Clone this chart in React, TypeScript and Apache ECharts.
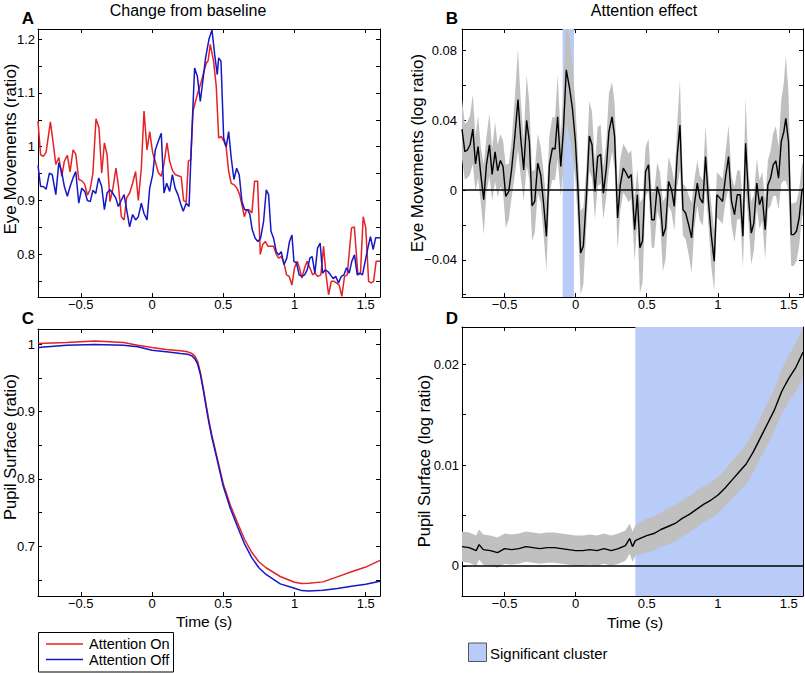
import React, { useEffect, useRef } from 'react';
import * as echarts from 'echarts';

// ---------- data ----------
const X_TICKS = [-0.5, 0, 0.5, 1, 1.5];
const A_Y_TICKS = [0.75, 0.8, 0.85, 0.9, 0.95, 1, 1.05, 1.1, 1.15, 1.2];
const A_Y_LABELS = [0.8, 0.9, 1, 1.1, 1.2];
const B_Y_TICKS = [-0.06, -0.04, -0.02, 0, 0.02, 0.04, 0.06, 0.08];
const B_Y_LABELS = [-0.04, 0, 0.04, 0.08];
const C_Y_TICKS = [0.65, 0.7, 0.75, 0.8, 0.85, 0.9, 0.95, 1];
const C_Y_LABELS = [0.7, 0.8, 0.9, 1];
const D_Y_TICKS = [0, 0.005, 0.01, 0.015, 0.02];
const D_Y_LABELS = [0, 0.01, 0.02];

// Panel A: eye movements, change from baseline [time, ratio]
const aOn = [[-0.8,1.047],[-0.782,0.985],[-0.762,0.982],[-0.743,0.99],[-0.713,1.046],[-0.695,1.01],[-0.675,0.967],[-0.654,0.98],[-0.633,0.945],[-0.615,0.973],[-0.594,0.984],[-0.575,0.953],[-0.554,0.994],[-0.535,0.986],[-0.514,0.939],[-0.493,0.937],[-0.472,0.93],[-0.453,0.91],[-0.435,0.92],[-0.415,0.95],[-0.393,1.052],[-0.372,1.035],[-0.353,0.951],[-0.334,1.007],[-0.315,0.985],[-0.295,0.898],[-0.276,0.92],[-0.253,0.96],[-0.235,0.926],[-0.215,0.87],[-0.196,0.864],[-0.178,0.905],[-0.157,0.914],[-0.136,0.932],[-0.115,0.954],[-0.096,0.9],[-0.075,0.96],[-0.056,1.066],[-0.035,0.994],[-0.016,1.028],[0.005,0.988],[0.023,0.973],[0.044,0.952],[0.065,0.945],[0.084,0.968],[0.105,1.007],[0.124,0.973],[0.145,0.955],[0.165,0.948],[0.185,0.946],[0.205,0.944],[0.222,0.9],[0.24,0.897],[0.255,0.973],[0.272,0.976],[0.288,1.066],[0.305,1.084],[0.325,1.103],[0.346,1.121],[0.365,1.14],[0.381,1.155],[0.394,1.16],[0.409,1.19],[0.432,1.159],[0.451,1.112],[0.468,1.016],[0.486,1.019],[0.505,1.01],[0.521,0.998],[0.538,0.954],[0.556,0.932],[0.577,0.929],[0.596,0.923],[0.615,0.911],[0.631,0.892],[0.648,0.87],[0.664,0.883],[0.68,0.883],[0.701,0.877],[0.72,0.936],[0.741,0.936],[0.76,0.8],[0.776,0.818],[0.795,0.824],[0.814,0.815],[0.832,0.815],[0.853,0.815],[0.872,0.8],[0.888,0.793],[0.907,0.796],[0.926,0.784],[0.944,0.762],[0.963,0.759],[0.982,0.743],[1.0,0.775],[1.019,0.787],[1.035,0.775],[1.052,0.756],[1.071,0.775],[1.089,0.787],[1.108,0.775],[1.127,0.762],[1.145,0.765],[1.164,0.759],[1.185,0.762],[1.204,0.815],[1.22,0.765],[1.239,0.725],[1.258,0.75],[1.277,0.75],[1.295,0.747],[1.314,0.743],[1.332,0.722],[1.351,0.759],[1.37,0.762],[1.4,0.849],[1.42,0.851],[1.445,0.762],[1.463,0.765],[1.482,0.87],[1.5,0.849],[1.52,0.75],[1.538,0.747],[1.555,0.75],[1.573,0.787],[1.6,0.787]];
const aOff = [[-0.8,0.965],[-0.782,0.926],[-0.762,0.926],[-0.743,0.921],[-0.72,0.951],[-0.7,0.948],[-0.675,0.911],[-0.654,0.97],[-0.635,0.955],[-0.615,0.926],[-0.594,0.908],[-0.575,0.926],[-0.554,0.942],[-0.535,0.954],[-0.514,0.895],[-0.493,0.923],[-0.472,0.917],[-0.453,0.9],[-0.433,0.898],[-0.415,0.919],[-0.395,0.913],[-0.374,0.942],[-0.353,0.926],[-0.334,0.883],[-0.315,0.914],[-0.295,0.92],[-0.276,0.914],[-0.255,0.905],[-0.236,0.889],[-0.215,0.901],[-0.196,0.911],[-0.178,0.883],[-0.157,0.851],[-0.136,0.874],[-0.115,0.864],[-0.096,0.87],[-0.075,0.895],[-0.056,0.876],[-0.035,0.864],[-0.016,0.923],[0.005,0.948],[0.023,0.994],[0.044,1.01],[0.065,1.025],[0.084,0.914],[0.103,0.932],[0.124,0.917],[0.143,0.948],[0.162,0.923],[0.182,0.911],[0.2,0.895],[0.219,0.88],[0.24,0.895],[0.26,0.889],[0.28,1.028],[0.299,1.146],[0.318,1.131],[0.339,1.084],[0.358,1.125],[0.376,1.165],[0.4,1.2],[0.421,1.217],[0.44,1.171],[0.458,1.134],[0.468,1.165],[0.484,1.159],[0.503,1.016],[0.521,1.0],[0.538,1.028],[0.556,0.979],[0.575,0.939],[0.594,0.96],[0.612,0.948],[0.631,0.898],[0.65,0.883],[0.671,0.883],[0.687,0.874],[0.703,0.846],[0.724,0.83],[0.743,0.824],[0.762,0.83],[0.783,0.861],[0.802,0.92],[0.818,0.911],[0.835,0.843],[0.853,0.83],[0.872,0.805],[0.888,0.799],[0.907,0.805],[0.926,0.781],[0.946,0.793],[0.965,0.824],[0.982,0.836],[0.996,0.787],[1.014,0.784],[1.033,0.762],[1.052,0.759],[1.071,0.762],[1.089,0.771],[1.108,0.793],[1.124,0.796],[1.143,0.765],[1.162,0.812],[1.18,0.821],[1.197,0.765],[1.215,0.771],[1.234,0.768],[1.253,0.762],[1.272,0.755],[1.29,0.759],[1.309,0.747],[1.328,0.759],[1.347,0.762],[1.365,0.775],[1.384,0.765],[1.402,0.787],[1.421,0.799],[1.44,0.762],[1.458,0.765],[1.477,0.762],[1.496,0.787],[1.515,0.812],[1.533,0.833],[1.552,0.809],[1.57,0.831],[1.6,0.831]];

// Panel B: attention effect on eye movements (log ratio)
const bTime = [-0.8,-0.78,-0.762,-0.743,-0.724,-0.705,-0.687,-0.668,-0.647,-0.628,-0.607,-0.588,-0.567,-0.549,-0.53,-0.511,-0.492,-0.471,-0.452,-0.429,-0.406,-0.387,-0.366,-0.345,-0.326,-0.307,-0.288,-0.267,-0.246,-0.225,-0.206,-0.185,-0.164,-0.145,-0.127,-0.105,-0.087,-0.066,-0.042,-0.023,-0.002,0.016,0.035,0.054,0.075,0.096,0.115,0.136,0.155,0.176,0.195,0.216,0.234,0.256,0.274,0.295,0.314,0.335,0.356,0.373,0.391,0.415,0.434,0.452,0.471,0.492,0.513,0.535,0.553,0.574,0.593,0.614,0.633,0.654,0.675,0.694,0.715,0.734,0.755,0.774,0.795,0.816,0.835,0.856,0.874,0.895,0.914,0.935,0.954,0.975,0.994,1.015,1.034,1.055,1.076,1.097,1.118,1.137,1.158,1.177,1.196,1.217,1.236,1.254,1.275,1.294,1.313,1.334,1.353,1.372,1.39,1.409,1.428,1.447,1.465,1.479,1.498,1.517,1.535,1.554,1.573,1.592,1.6];
const bMean = [0.035,0.022,0.023,0.026,0.035,0.015,0.025,0.009,-0.0055,0.0145,0.026,0.009,0.022,0.011,0.017,0.0135,-0.0036,-0.0008,0.011,0.03,0.052,0.03,0.0116,0.04,0.028,-0.009,-0.0065,0.0154,0.0088,-0.0084,-0.0265,0.0145,0.024,0.0236,0.042,0.0135,0.0335,0.069,0.058,0.047,0.028,0.001,-0.036,-0.032,-0.0046,0.031,0.026,-0.0008,0.0192,0.0206,-0.0017,0.0126,0.0335,0.042,0.031,-0.016,0.003,0.0126,0.0097,0.0069,0.009,-0.0227,-0.0027,-0.033,-0.029,0.0107,0.0145,-0.017,-0.017,0.002,-0.0036,-0.0265,-0.0217,0.005,0.0002,-0.0093,0.0202,0.0373,-0.0112,-0.0131,-0.0198,-0.0274,-0.0084,0.004,-0.0046,-0.0074,0.0192,-0.0065,-0.0255,-0.0408,-0.0027,-0.0046,-0.0065,0.0078,0.0192,-0.0065,-0.0141,-0.0027,-0.0027,-0.0265,0.0269,-0.0046,-0.0246,-0.0189,0.004,-0.0084,-0.0036,-0.0227,0.003,0.0069,0.0145,0.0168,0.0069,0.0278,0.0335,0.0411,0.0278,-0.0255,-0.0255,-0.0236,-0.016,-0.0008,0.001];
const bErr = [0.017,0.016,0.016,0.017,0.02,0.016,0.018,0.016,0.02,0.016,0.018,0.015,0.017,0.015,0.015,0.015,0.018,0.016,0.016,0.022,0.029,0.022,0.018,0.026,0.022,0.02,0.018,0.017,0.016,0.018,0.02,0.017,0.018,0.018,0.024,0.017,0.022,0.03,0.028,0.026,0.022,0.02,0.024,0.022,0.017,0.02,0.019,0.016,0.017,0.017,0.015,0.016,0.022,0.02,0.019,0.018,0.015,0.014,0.014,0.014,0.014,0.018,0.015,0.026,0.024,0.014,0.015,0.016,0.016,0.014,0.014,0.02,0.018,0.014,0.013,0.014,0.018,0.026,0.015,0.015,0.017,0.02,0.014,0.013,0.013,0.013,0.018,0.014,0.018,0.017,0.013,0.013,0.013,0.014,0.018,0.014,0.016,0.014,0.014,0.018,0.026,0.015,0.018,0.016,0.014,0.014,0.014,0.017,0.014,0.016,0.018,0.02,0.018,0.024,0.028,0.036,0.028,0.018,0.018,0.017,0.016,0.015,0.015];
const bCluster = [-0.092, -0.012];

// Panel C: pupil surface, change from baseline (ratio)
const cTime = [-0.8,-0.6,-0.4,-0.2,-0.1,0,0.1,0.2,0.25,0.28,0.3,0.32,0.34,0.36,0.38,0.4,0.42,0.45,0.5,0.55,0.6,0.65,0.7,0.75,0.8,0.9,1.0,1.05,1.1,1.2,1.3,1.4,1.5,1.6];
const cOn = [1.0015,1.003,1.005,1.003,0.999,0.9955,0.9925,0.9905,0.989,0.9865,0.983,0.975,0.958,0.935,0.91,0.886,0.865,0.838,0.793,0.761,0.735,0.71,0.691,0.677,0.668,0.655,0.6465,0.6445,0.645,0.647,0.6545,0.662,0.669,0.679];
const cOff = [0.9955,0.999,1.0,0.999,0.9965,0.9915,0.989,0.9865,0.9855,0.983,0.979,0.971,0.955,0.932,0.907,0.883,0.862,0.835,0.789,0.756,0.729,0.703,0.683,0.668,0.658,0.644,0.6375,0.634,0.6335,0.6345,0.637,0.6405,0.6435,0.648];

// Panel D: attention effect on pupil surface (log ratio)
const dTime = [-0.8,-0.75,-0.7,-0.68,-0.65,-0.6,-0.55,-0.5,-0.45,-0.4,-0.35,-0.3,-0.25,-0.2,-0.15,-0.1,-0.05,0,0.05,0.1,0.15,0.2,0.25,0.3,0.35,0.38,0.4,0.42,0.45,0.5,0.55,0.6,0.65,0.7,0.75,0.8,0.85,0.9,0.95,1.0,1.05,1.1,1.15,1.2,1.25,1.3,1.35,1.4,1.45,1.5,1.55,1.6];
const dMean = [0.0019,0.0018,0.0015,0.0021,0.0016,0.0015,0.0013,0.0017,0.0016,0.0017,0.0019,0.0018,0.0017,0.0018,0.0018,0.0017,0.0016,0.0015,0.0015,0.0016,0.0015,0.0017,0.0015,0.0017,0.002,0.0027,0.0019,0.0025,0.0027,0.003,0.0032,0.0036,0.0039,0.0042,0.0047,0.0051,0.0056,0.0061,0.0065,0.007,0.0077,0.0085,0.0093,0.0101,0.0113,0.0127,0.0141,0.0155,0.0173,0.0186,0.0197,0.0212];
const dErr = [0.0015,0.0015,0.0015,0.0015,0.0015,0.0015,0.0015,0.0015,0.0015,0.0015,0.0015,0.0015,0.0015,0.0015,0.0015,0.0015,0.0015,0.0015,0.0015,0.0015,0.0015,0.0015,0.0015,0.0015,0.0015,0.0015,0.0015,0.0015,0.0016,0.0017,0.0017,0.0017,0.0018,0.0018,0.0018,0.0018,0.0018,0.0018,0.0018,0.0018,0.0018,0.0019,0.0019,0.002,0.002,0.002,0.0021,0.0021,0.0022,0.0023,0.0024,0.0025];
const dCluster = [0.42, 1.6];

// ---------- styling ----------
const FONT = 'Liberation Sans, Arial, Helvetica, sans-serif';
const RED = '#e52226';
const BLUE = '#1717c4';
const BAND = '#c0c0c0';
const CLUSTER = '#b9ccf8';

const fmt = (v: number) => String(parseFloat(Number(v).toFixed(4))).replace('-', '\u2212');

function xAxes(grid: number, showLabels: boolean) {
  const base = {
    type: 'value', gridIndex: grid, min: -0.8, max: 1.6,
    splitLine: { show: false },
    axisLine: { show: true, onZero: false, lineStyle: { color: '#000', width: 1 } },
    axisTick: { show: true, inside: true, length: 4, customValues: X_TICKS, lineStyle: { color: '#000', width: 1 } },
  };
  return [
    { ...base, position: 'bottom',
      axisLabel: { show: showLabels, customValues: X_TICKS, formatter: fmt, margin: 1, fontSize: 13, color: '#000', fontFamily: FONT } },
    { ...base, position: 'top', axisLabel: { show: false } },
  ];
}

function yAxes(grid: number, min: number, max: number, ticks: number[], labels: number[], margin: number) {
  const base = {
    type: 'value', gridIndex: grid, min, max,
    splitLine: { show: false },
    axisLine: { show: true, onZero: false, lineStyle: { color: '#000', width: 1 } },
    axisTick: { show: true, inside: true, length: 4, customValues: ticks, lineStyle: { color: '#000', width: 1 } },
  };
  return [
    { ...base, position: 'left',
      axisLabel: { show: true, customValues: labels, formatter: fmt, margin, fontSize: 13, color: '#000', fontFamily: FONT } },
    { ...base, position: 'right', axisLabel: { show: false } },
  ];
}

function clusterSeries(axisIdx: number, range: number[]) {
  return {
    type: 'custom', xAxisIndex: axisIdx, yAxisIndex: axisIdx, z: 1, silent: true,
    data: [[range[0], range[1]]],
    encode: { x: [0, 1] },
    renderItem: (params: any, api: any) => {
      const cs = params.coordSys;
      const x0 = api.coord([api.value(0), 0])[0];
      const x1 = api.coord([api.value(1), 0])[0];
      return { type: 'rect', shape: { x: x0, y: cs.y, width: x1 - x0, height: cs.height }, style: { fill: CLUSTER } };
    },
  };
}

function bandSeries(axisIdx: number, times: number[], mean: number[], err: number[]) {
  return {
    type: 'custom', xAxisIndex: axisIdx, yAxisIndex: axisIdx, z: 2, silent: true,
    data: [[times[0], mean[0]]],
    encode: { x: 0, y: 1 },
    renderItem: (params: any, api: any) => {
      const cs = params.coordSys;
      const upper = times.map((t, i) => api.coord([t, mean[i] + err[i]]));
      const lower = times.map((t, i) => api.coord([t, mean[i] - err[i]])).reverse();
      return {
        type: 'polygon',
        shape: { points: upper.concat(lower) },
        style: { fill: BAND },
        clipPath: { type: 'rect', shape: { x: cs.x, y: cs.y, width: cs.width, height: cs.height } },
      };
    },
  };
}

function meanSeries(axisIdx: number, times: number[], mean: number[]) {
  return {
    type: 'line', xAxisIndex: axisIdx, yAxisIndex: axisIdx, z: 3,
    data: times.map((t, i) => [t, mean[i]]),
    symbol: 'none', showSymbol: false, silent: true,
    lineStyle: { color: '#000', width: 1.4 },
    emphasis: { disabled: true },
    markLine: {
      silent: true, symbol: ['none', 'none'], label: { show: false },
      lineStyle: { color: '#000', width: 1.5, type: 'solid' },
      data: [{ yAxis: 0 }],
    },
  };
}

function lineSeries(name: string, axisIdx: number, data: number[][], color: string) {
  return {
    name, type: 'line', xAxisIndex: axisIdx, yAxisIndex: axisIdx,
    data, symbol: 'none', showSymbol: false, silent: true,
    lineStyle: { color, width: 1.5 },
    itemStyle: { color },
    emphasis: { disabled: true },
  };
}

function txt(text: string, x: number, y: number, size: number, opts: any = {}) {
  return {
    type: 'text', x, y, rotation: opts.rotation || 0, silent: true,
    style: {
      text, fontSize: size, fontFamily: FONT, fontWeight: opts.bold ? 'bold' : 'normal',
      fill: '#000', align: opts.align || 'center', verticalAlign: 'middle',
      textAlign: opts.align || 'center', textVerticalAlign: 'middle',
    },
  };
}

export default function App() {
  const ref = useRef<HTMLDivElement>(null);
  useEffect(() => {
    if (!ref.current) return;
    const chart = echarts.init(ref.current, undefined, { renderer: 'svg' });
    const option: any = {
      animation: false,
      backgroundColor: '#fff',
      grid: [
        { left: 38, top: 29, width: 342, height: 268 },
        { left: 462, top: 29, width: 341, height: 268 },
        { left: 38, top: 329, width: 342, height: 267 },
        { left: 462, top: 327, width: 341, height: 269 },
      ],
      xAxis: [...xAxes(0, true), ...xAxes(1, true), ...xAxes(2, true), ...xAxes(3, true)],
      yAxis: [
        ...yAxes(0, 0.7208, 1.2186, A_Y_TICKS, A_Y_LABELS, 3),
        ...yAxes(1, -0.0613, 0.0924, B_Y_TICKS, B_Y_LABELS, 5),
        ...yAxes(2, 0.626, 1.023, C_Y_TICKS, C_Y_LABELS, 3),
        ...yAxes(3, -0.003, 0.0237, D_Y_TICKS, D_Y_LABELS, 3),
      ],
      series: [
        lineSeries('Attention On', 0, aOn, RED),
        lineSeries('Attention Off', 0, aOff, BLUE),
        clusterSeries(2, bCluster),
        bandSeries(2, bTime, bMean, bErr),
        meanSeries(2, bTime, bMean),
        lineSeries('Attention On', 4, cTime.map((t, i) => [t, cOn[i]]), RED),
        lineSeries('Attention Off', 4, cTime.map((t, i) => [t, cOff[i]]), BLUE),
        clusterSeries(6, dCluster),
        bandSeries(6, dTime, dMean, dErr),
        meanSeries(6, dTime, dMean),
      ],
      graphic: [
        txt('Change from baseline', 188, 10, 16),
        txt('Attention effect', 644, 10, 16),
        txt('A', 28, 18, 17, { bold: true }),
        txt('B', 452, 18, 17, { bold: true }),
        txt('C', 28, 318, 17, { bold: true }),
        txt('D', 452, 318, 17, { bold: true }),
        txt('Eye Movements (ratio)', 10, 149, 17, { rotation: Math.PI / 2 }),
        txt('Eye Movements (log ratio)', 417, 153, 17, { rotation: Math.PI / 2 }),
        txt('Pupil Surface (ratio)', 10, 447, 16.5, { rotation: Math.PI / 2 }),
        txt('Pupil Surface (log ratio)', 424, 461, 16.5, { rotation: Math.PI / 2 }),
        txt('Time (s)', 204, 621, 15.5),
        txt('Time (s)', 635, 622, 15.5),
        // legend of panel C
        { type: 'rect', silent: true, shape: { x: 38.5, y: 632.5, width: 135, height: 39.5 }, style: { fill: '#fff', stroke: '#000', lineWidth: 1 } },
        { type: 'line', silent: true, shape: { x1: 46, y1: 644, x2: 83, y2: 644 }, style: { stroke: RED, lineWidth: 1.5 } },
        { type: 'line', silent: true, shape: { x1: 46, y1: 659.5, x2: 83, y2: 659.5 }, style: { stroke: BLUE, lineWidth: 1.5 } },
        txt('Attention On', 89, 644, 14.5, { align: 'left' }),
        txt('Attention Off', 89, 660, 14.5, { align: 'left' }),
        // legend of panel D
        { type: 'rect', silent: true, shape: { x: 468.5, y: 643, width: 18, height: 18.5 }, style: { fill: CLUSTER, stroke: '#555', lineWidth: 1 } },
        txt('Significant cluster', 490, 653, 15, { align: 'left' }),
      ],
    };
    chart.setOption(option);
    return () => chart.dispose();
  }, []);
  return <div ref={ref} style={{ position: 'fixed', left: 0, top: 0, width: 805, height: 673, background: '#fff' }} />;
}
